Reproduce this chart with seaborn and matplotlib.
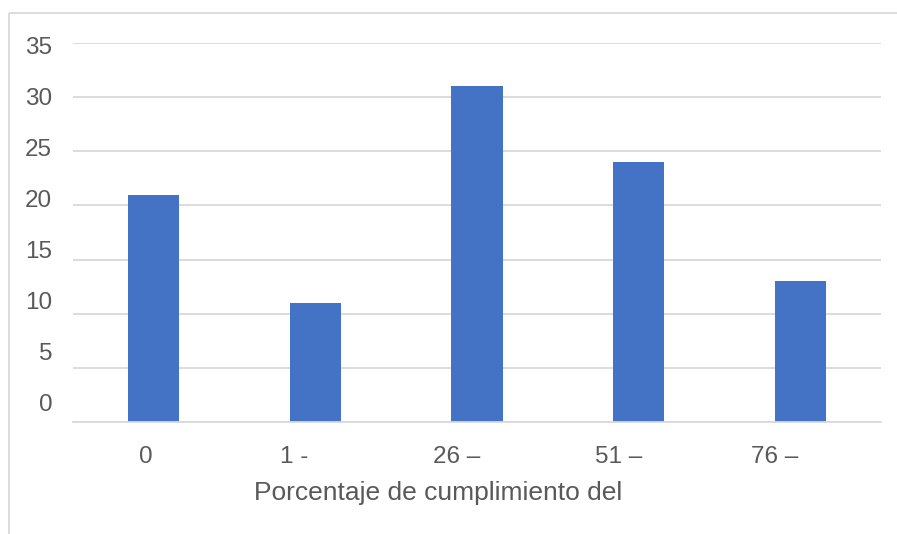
import matplotlib
matplotlib.use("Agg")
import matplotlib.pyplot as plt
import matplotlib.transforms as mtransforms
from matplotlib.lines import Line2D
import seaborn as sns
import pandas as pd

# data
categories = ["0", "1 -", "26 –", "51 –", "76 –"]
counts = [21, 11, 31, 24, 13]
y_ticks = [0, 5, 10, 15, 20, 25, 30, 35]

# label nudges (pixels) to mimic the original layout
x_label_shift = [-8, -21, -20, -20, -26]

sns.set_theme(style="white")
plt.rcParams["font.family"] = ["Liberation Sans", "DejaVu Sans"]

text_col = "#595959"
grid_col = "#D9D9D9"
bar_col = "#4472C4"

W, H = 897, 534
fig = plt.figure(figsize=(W / 100, H / 100), dpi=100)
ax = fig.add_axes([73 / W, 1 - 422 / H, 808 / W, 379 / H])

df = pd.DataFrame({"rango": categories, "n": counts})
sns.barplot(data=df, x="rango", y="n", color=bar_col, saturation=1,
            width=0.316, linewidth=0, ax=ax)

ax.set_ylim(0, 35)
ax.set_xlim(-0.5, len(categories) - 0.5)
ax.set_yticks(y_ticks)
ax.yaxis.grid(True, color=grid_col, linewidth=1.3)
ax.set_axisbelow(True)
for s in ["left", "right", "top"]:
    ax.spines[s].set_visible(False)
ax.spines["bottom"].set_color(grid_col)
ax.spines["bottom"].set_linewidth(1.3)

ax.tick_params(axis="y", length=0, pad=15, labelsize=17.5, labelcolor=text_col)
ax.tick_params(axis="x", length=0, pad=17, labelsize=17.5, labelcolor=text_col)

# y labels drift upward relative to gridlines in the original
for v, lab in zip(y_ticks, ax.get_yticklabels()):
    dy = (-2 + (35 - v) / 5 * 3.1) / 100
    lab.set_transform(lab.get_transform() +
                      mtransforms.ScaledTranslation(0, dy, fig.dpi_scale_trans))
for dx, lab in zip(x_label_shift, ax.get_xticklabels()):
    lab.set_transform(lab.get_transform() +
                      mtransforms.ScaledTranslation(dx / 100, 0, fig.dpi_scale_trans))

ax.set_ylabel("")
ax.set_xlabel("Porcentaje de cumplimiento del", fontsize=19, color=text_col)
ax.xaxis.label.set_va("center")
ax.xaxis.set_label_coords((438 - 73) / 808, (422 - 493) / 379)

# chart area border (only top and left edges are visible)
fig.lines.append(Line2D([9 / W, 9 / W], [0, 1 - 13 / H], transform=fig.transFigure,
                        color=grid_col, linewidth=1.3, solid_capstyle="butt"))
fig.lines.append(Line2D([9 / W, 1.05], [1 - 13 / H, 1 - 13 / H], transform=fig.transFigure,
                        color=grid_col, linewidth=1.3, solid_capstyle="butt"))

fig.savefig("out.png", dpi=100)
